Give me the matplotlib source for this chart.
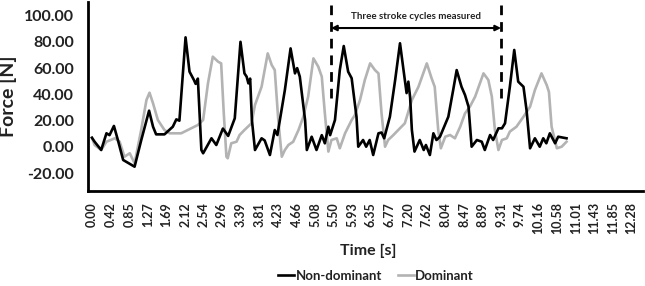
import matplotlib
matplotlib.use("Agg")
import matplotlib.pyplot as plt

plt.rcParams['font.family'] = ['Lato', 'DejaVu Sans']

# Non-dominant (black) trace: time [s], force [N]
nd_time = [0.00, 0.06, 0.21, 0.33, 0.40, 0.50, 0.59, 0.71, 0.97, 1.12, 1.30, 1.39, 1.46, 1.65,
           1.84, 1.92, 1.99, 2.13, 2.22, 2.32, 2.36, 2.41, 2.49, 2.53, 2.72, 2.83, 2.98, 3.10,
           3.25, 3.38, 3.47, 3.52, 3.56, 3.60, 3.64, 3.71, 3.86, 3.93, 4.05, 4.16, 4.22, 4.39,
           4.52, 4.62, 4.67, 4.73, 4.85, 4.89, 5.00, 5.11, 5.23, 5.30, 5.38, 5.42, 5.53, 5.64,
           5.73, 5.83, 5.91, 6.02, 6.06, 6.17, 6.24, 6.32, 6.40, 6.52, 6.59, 6.65, 6.78, 6.90,
           7.01, 7.11, 7.16, 7.20, 7.24, 7.28, 7.34, 7.46, 7.55, 7.60, 7.69, 7.77, 7.84, 7.92,
           8.11, 8.22, 8.30, 8.41, 8.49, 8.57, 8.64, 8.76, 8.87, 8.94, 9.06, 9.13, 9.25, 9.33,
           9.40, 9.51, 9.61, 9.70, 9.82, 9.89, 9.97, 10.08, 10.19, 10.27, 10.34, 10.42, 10.54,
           10.61, 10.80]
nd_force = [7.0, 4.0, -2.3, 10.4, 9.0, 16.0, 5.3, -9.9, -15.0, 5.0, 27.6, 15.4, 9.6, 9.6,
            15.4, 21.0, 20.0, 83.4, 57.3, 51.0, 48.0, 52.0, -2.3, -4.8, 6.6, 1.5, 14.0, 8.4,
            21.8, 80.0, 56.0, 53.5, 48.4, 52.0, 20.5, -2.3, 6.6, 5.0, -6.1, 12.9, 9.1, 43.3,
            75.0, 56.0, 60.0, 53.5, 20.5, -2.3, 7.8, -2.3, 9.0, 2.8, 15.4, 9.0, 20.5, 58.5,
            76.8, 57.3, 52.3, 23.0, 0.2, 5.3, 0.2, 5.3, -6.1, 10.4, 11.0, 6.6, 23.0, 51.0,
            78.9, 53.5, 41.0, 49.7, 38.0, 13.0, -3.5, 5.3, -2.3, 1.5, -6.1, 10.4, 5.3, 7.8,
            23.0, 43.3, 58.5, 45.8, 39.5, 30.6, 0.2, 5.3, 4.0, -2.3, 9.1, 5.3, 14.2, 14.2,
            18.0, 45.8, 73.8, 49.7, 45.8, 28.0, -1.0, 6.6, 0.2, 6.6, 2.8, 10.4, 2.8,
            7.8, 6.6]

# Dominant (grey) trace
d_time = [0.00, 0.06, 0.21, 0.33, 0.52, 0.63, 0.74, 0.86, 0.97, 1.12, 1.24, 1.31, 1.39, 1.50,
          1.65, 1.77, 2.03, 2.18, 2.41, 2.53, 2.64, 2.75, 2.87, 2.94, 3.00, 3.06, 3.09, 3.17,
          3.29, 3.36, 3.47, 3.63, 3.71, 3.86, 4.00, 4.09, 4.16, 4.24, 4.32, 4.39, 4.47, 4.58,
          4.70, 4.81, 4.92, 5.04, 5.15, 5.23, 5.30, 5.38, 5.45, 5.57, 5.64, 5.76, 5.91, 5.98,
          6.10, 6.21, 6.33, 6.44, 6.52, 6.59, 6.67, 6.74, 6.86, 6.97, 7.12, 7.28, 7.43, 7.62,
          7.73, 7.80, 7.88, 7.94, 8.04, 8.15, 8.26, 8.38, 8.49, 8.60, 8.72, 8.91, 9.02, 9.10,
          9.17, 9.25, 9.33, 9.44, 9.51, 9.66, 9.82, 9.97, 10.08, 10.23, 10.35, 10.40, 10.46,
          10.58, 10.69, 10.80]
d_force = [7.0, 1.5, -2.3, 4.0, 6.6, 4.0, -7.4, -4.8, -12.4, 12.9, 35.7, 41.3, 33.2, 20.5,
           12.9, 10.4, 10.4, 12.9, 16.7, 20.5, 48.4, 68.7, 64.9, 63.6, 25.6, -7.4, -8.6, 2.8,
           4.0, 9.1, 12.9, 18.0, 32.0, 45.8, 71.2, 62.4, 58.5, 20.5, -7.4, -2.3, 1.5, 4.0,
           12.9, 23.0, 38.3, 67.4, 61.1, 53.5, 25.6, -3.5, 5.3, 6.6, -1.0, 10.4, 20.5, 24.0,
           35.7, 51.0, 63.6, 58.5, 56.0, 25.6, 0.2, 5.3, 9.1, 12.9, 18.0, 35.7, 45.8, 63.6,
           52.2, 45.8, 12.9, -1.0, 7.8, 9.1, 6.6, 15.4, 25.6, 30.6, 38.3, 56.0, 51.0, 38.3,
           12.9, -2.3, 5.3, 6.6, 11.7, 15.4, 23.0, 30.6, 43.3, 56.0, 47.0, 41.8, 15.4,
           -1.0, 0.2, 4.0]

x_tick_labels = ['0.00', '0.42', '0.85', '1.27', '1.69', '2.12', '2.54', '2.96', '3.39', '3.81',
                 '4.23', '4.66', '5.08', '5.50', '5.93', '6.35', '6.77', '7.20', '7.62', '8.04',
                 '8.47', '8.89', '9.31', '9.74', '10.16', '10.58', '11.01', '11.43', '11.85', '12.28']
y_ticks = [-20, 0, 20, 40, 60, 80, 100]
marker_times = [5.44, 9.31]
annotation_text = 'Three stroke cycles measured'

fig = plt.figure(figsize=(6.45, 2.86), dpi=100)
ax = fig.add_axes([88/645, 1 - 191/286, (643 - 88)/645, (191 - 2)/286])

ax.plot(nd_time, nd_force, color='black', lw=1.9, label='Non-dominant', zorder=3,
        solid_joinstyle='round')
ax.plot(d_time, d_force, color='#b3b3b3', lw=1.9, label='Dominant', zorder=2,
        solid_joinstyle='round')

for t in marker_times:
    ax.plot([t, t], [37.3, 108], color='black', lw=2, ls=(0, (3.5, 2.5)), zorder=4)
ax.annotate('', xy=(marker_times[0], 90.5), xytext=(marker_times[1], 90.5),
            arrowprops=dict(arrowstyle='<|-|>', color='black', lw=1.5,
                            mutation_scale=8, shrinkA=0, shrinkB=0))
ax.text(sum(marker_times)/2, 99, annotation_text, ha='center', va='center',
        fontsize=7, fontweight='bold', color='#222222')

ax.set_xlim(-0.09, 12.54)
ax.set_ylim(-33.5, 110.3)
ax.set_xticks([float(s) for s in x_tick_labels])
ax.set_xticklabels(x_tick_labels, rotation=90, fontsize=9, fontweight='bold', color='#222222')
ax.set_yticks(y_ticks)
ax.set_yticklabels([f'{v:.2f}' for v in y_ticks], fontsize=11.5, fontweight='bold', color='#222222')
ax.tick_params(axis='both', length=0)
ax.tick_params(axis='x', pad=8)
ax.tick_params(axis='y', pad=10)

for s in ['top', 'right']:
    ax.spines[s].set_visible(False)
for s in ['left', 'bottom']:
    ax.spines[s].set_linewidth(2)
    ax.spines[s].set_color('black')

ax.set_ylabel('Force [N]', fontsize=14, fontweight='bold', color='#222222', labelpad=5)
fig.text(368/645, 1 - 251/286, 'Time [s]', ha='center', va='center',
         fontsize=11.5, fontweight='bold', color='#222222')

leg = fig.legend(loc='center', bbox_to_anchor=(376/645, 1 - 276/286), ncol=2, frameon=False,
                 handlelength=1.2, handletextpad=0.1, columnspacing=1.2,
                 prop={'weight': 'bold', 'size': 9.5})
for txt in leg.get_texts():
    txt.set_color('#222222')

fig.savefig('out.png', dpi=100)
